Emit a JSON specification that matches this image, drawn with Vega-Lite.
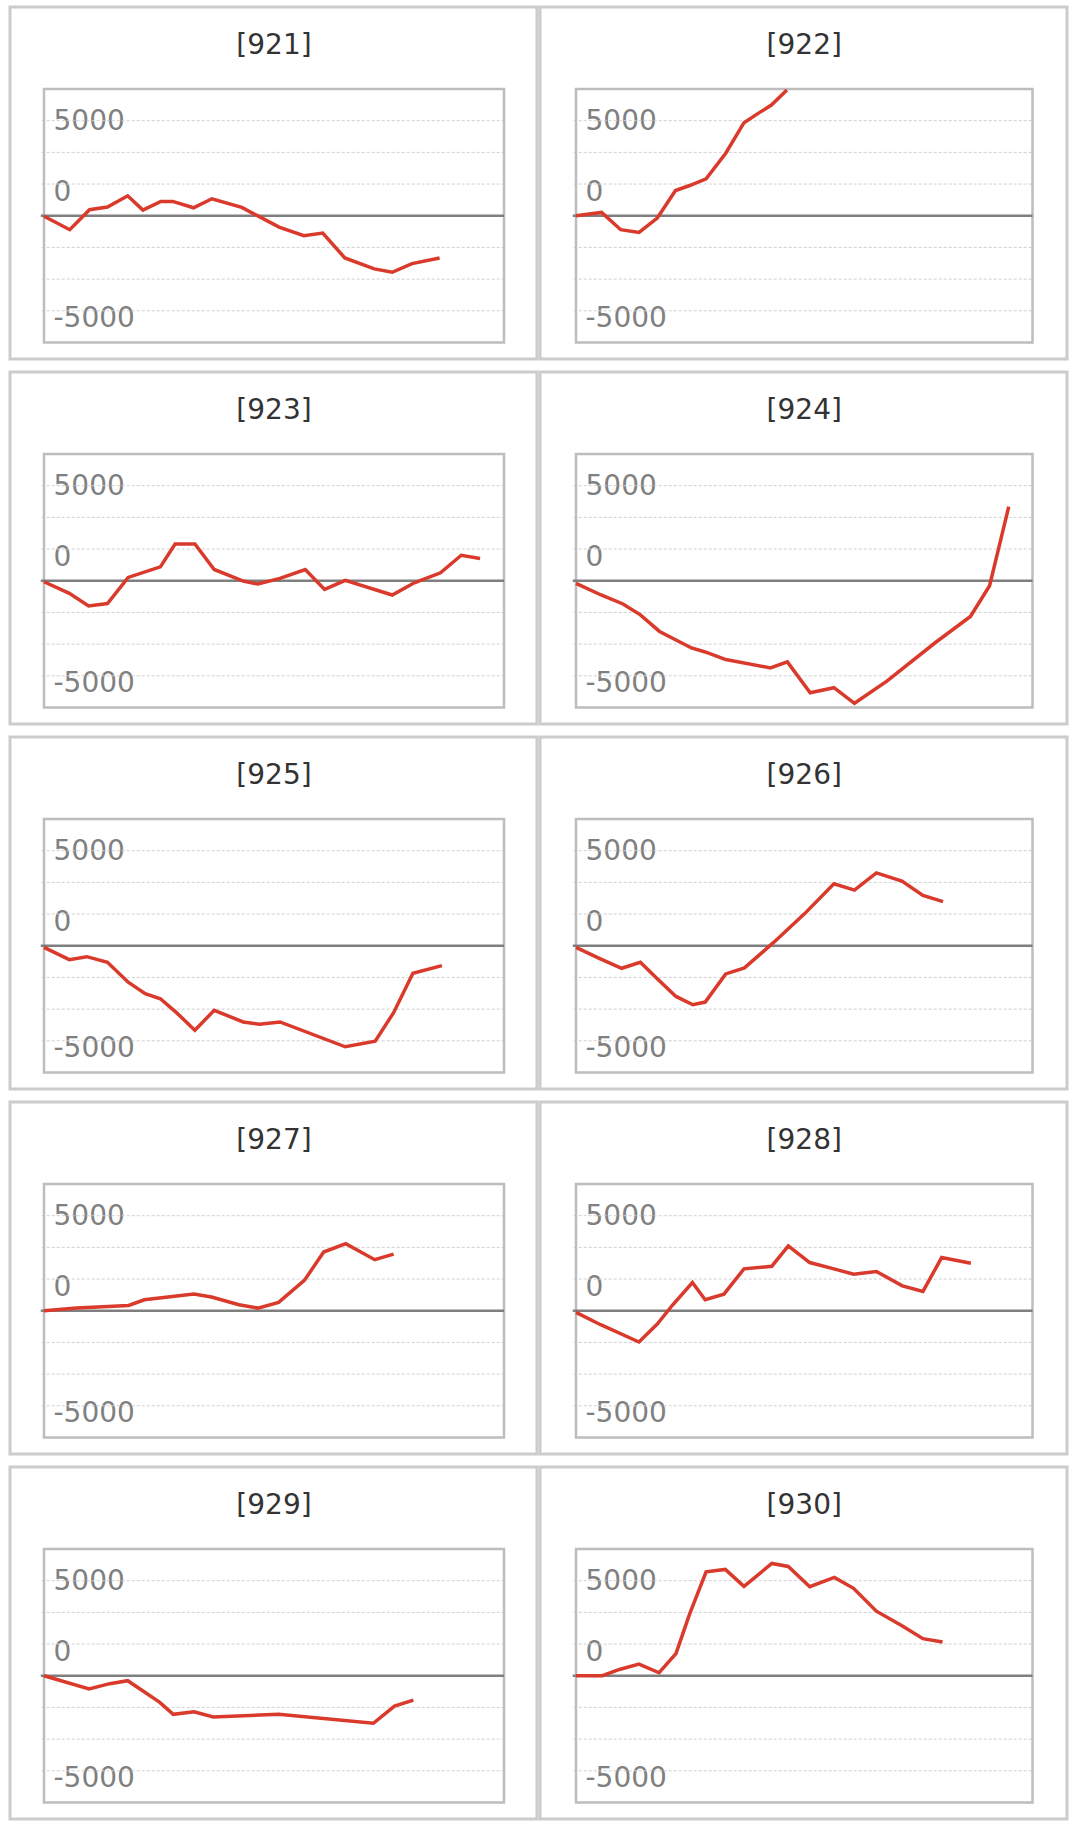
{
"$schema":"https://vega.github.io/schema/vega-lite/v6.json",
"padding":{"left":8,"top":5,"right":0,"bottom":0},
"background":"white",
"config":{"view":{"stroke":"#cccccc","strokeWidth":3},
"line":{"color":"#d93a2b","strokeWidth":3.5},
"axisY":{"grid":false,"domain":false,"ticks":false,"tickSize":0,"labelFont":"DejaVu Sans","labelFontSize":28,"labelColor":"#808080","labelAlign":"left","labelBaseline":"alphabetic","labelOverlap":false,"labelFlush":false,"labelExpr":"datum.value > 4000 ? '5000' : datum.value < -4000 ? '-5000' : '0'"}},
"datasets":{
"grid":[{"diff":-5000},{"diff":-3333.33},{"diff":-1666.67},{"diff":1666.67},{"diff":3333.33},{"diff":5000}],
"series":[
{"panel":"[921]","t":0,"diff":-30},{"panel":"[921]","t":5.6,"diff":-734},{"panel":"[921]","t":9.9,"diff":315},{"panel":"[921]","t":13.8,"diff":455},{"panel":"[921]","t":18.2,"diff":1049},{"panel":"[921]","t":21.5,"diff":297},{"panel":"[921]","t":25.4,"diff":752},{"panel":"[921]","t":28.0,"diff":752},{"panel":"[921]","t":32.5,"diff":420},{"panel":"[921]","t":36.5,"diff":892},{"panel":"[921]","t":43.0,"diff":437},{"panel":"[921]","t":46.7,"diff":-35},{"panel":"[921]","t":51.1,"diff":-594},{"panel":"[921]","t":56.5,"diff":-1049},{"panel":"[921]","t":60.6,"diff":-909},{"panel":"[921]","t":65.4,"diff":-2220},{"panel":"[921]","t":71.8,"diff":-2797},{"panel":"[921]","t":75.7,"diff":-2972},{"panel":"[921]","t":80.0,"diff":-2517},{"panel":"[921]","t":86.0,"diff":-2220},
{"panel":"[922]","t":0,"diff":0},{"panel":"[922]","t":5.6,"diff":175},{"panel":"[922]","t":9.8,"diff":-734},{"panel":"[922]","t":13.8,"diff":-874},{"panel":"[922]","t":17.8,"diff":-122},{"panel":"[922]","t":21.8,"diff":1329},{"panel":"[922]","t":24.9,"diff":1591},{"panel":"[922]","t":28.5,"diff":1941},{"panel":"[922]","t":32.8,"diff":3287},{"panel":"[922]","t":36.8,"diff":4895},{"panel":"[922]","t":39.9,"diff":5385},{"panel":"[922]","t":42.8,"diff":5822},{"panel":"[922]","t":46.2,"diff":6620},
{"panel":"[923]","t":0,"diff":-52},{"panel":"[923]","t":5.5,"diff":-662},{"panel":"[923]","t":9.7,"diff":-1324},{"panel":"[923]","t":13.8,"diff":-1202},{"panel":"[923]","t":18.3,"diff":174},{"panel":"[923]","t":25.3,"diff":732},{"panel":"[923]","t":28.5,"diff":1934},{"panel":"[923]","t":32.8,"diff":1934},{"panel":"[923]","t":37.0,"diff":592},{"panel":"[923]","t":43.3,"diff":-17},{"panel":"[923]","t":46.5,"diff":-174},{"panel":"[923]","t":51.3,"diff":122},{"panel":"[923]","t":56.8,"diff":592},{"panel":"[923]","t":61.0,"diff":-453},{"panel":"[923]","t":65.5,"diff":17},{"panel":"[923]","t":75.7,"diff":-749},{"panel":"[923]","t":80.5,"diff":-105},{"panel":"[923]","t":86.2,"diff":418},{"panel":"[923]","t":90.7,"diff":1341},{"panel":"[923]","t":94.8,"diff":1167},
{"panel":"[924]","t":0,"diff":-139},{"panel":"[924]","t":5.5,"diff":-749},{"panel":"[924]","t":10.3,"diff":-1220},{"panel":"[924]","t":14.1,"diff":-1794},{"panel":"[924]","t":18.3,"diff":-2666},{"panel":"[924]","t":25.3,"diff":-3537},{"panel":"[924]","t":28.3,"diff":-3746},{"panel":"[924]","t":32.8,"diff":-4146},{"panel":"[924]","t":42.6,"diff":-4582},{"panel":"[924]","t":46.3,"diff":-4268},{"panel":"[924]","t":51.3,"diff":-5889},{"panel":"[924]","t":56.5,"diff":-5627},{"panel":"[924]","t":61.0,"diff":-6446},{"panel":"[924]","t":68.1,"diff":-5279},{"panel":"[924]","t":78.6,"diff":-3275},{"panel":"[924]","t":86.4,"diff":-1882},{"panel":"[924]","t":90.6,"diff":-261},{"panel":"[924]","t":94.8,"diff":3902},
{"panel":"[925]","t":0,"diff":-87},{"panel":"[925]","t":5.5,"diff":-732},{"panel":"[925]","t":9.3,"diff":-575},{"panel":"[925]","t":13.8,"diff":-871},{"panel":"[925]","t":18.3,"diff":-1916},{"panel":"[925]","t":22.0,"diff":-2526},{"panel":"[925]","t":25.3,"diff":-2787},{"panel":"[925]","t":28.8,"diff":-3519},{"panel":"[925]","t":32.8,"diff":-4443},{"panel":"[925]","t":37.0,"diff":-3397},{"panel":"[925]","t":43.3,"diff":-4007},{"panel":"[925]","t":46.8,"diff":-4129},{"panel":"[925]","t":51.3,"diff":-4007},{"panel":"[925]","t":65.5,"diff":-5314},{"panel":"[925]","t":72.0,"diff":-5017},{"panel":"[925]","t":76.0,"diff":-3519},{"panel":"[925]","t":80.2,"diff":-1446},{"panel":"[925]","t":86.5,"diff":-1045},
{"panel":"[926]","t":0,"diff":-87},{"panel":"[926]","t":5.1,"diff":-662},{"panel":"[926]","t":10.0,"diff":-1185},{"panel":"[926]","t":14.1,"diff":-871},{"panel":"[926]","t":17.8,"diff":-1742},{"panel":"[926]","t":21.9,"diff":-2666},{"panel":"[926]","t":25.6,"diff":-3101},{"panel":"[926]","t":28.3,"diff":-2962},{"panel":"[926]","t":32.8,"diff":-1481},{"panel":"[926]","t":36.9,"diff":-1167},{"panel":"[926]","t":43.3,"diff":174},{"panel":"[926]","t":50.1,"diff":1690},{"panel":"[926]","t":56.5,"diff":3258},{"panel":"[926]","t":61.0,"diff":2927},{"panel":"[926]","t":65.8,"diff":3833},{"panel":"[926]","t":71.4,"diff":3397},{"panel":"[926]","t":76.0,"diff":2648},{"panel":"[926]","t":80.4,"diff":2317},
{"panel":"[927]","t":0,"diff":0},{"panel":"[927]","t":7.1,"diff":140},{"panel":"[927]","t":18.4,"diff":281},{"panel":"[927]","t":21.8,"diff":579},{"panel":"[927]","t":32.6,"diff":877},{"panel":"[927]","t":36.4,"diff":719},{"panel":"[927]","t":42.4,"diff":316},{"panel":"[927]","t":46.5,"diff":140},{"panel":"[927]","t":51.0,"diff":439},{"panel":"[927]","t":56.6,"diff":1596},{"panel":"[927]","t":60.8,"diff":3088},{"panel":"[927]","t":65.6,"diff":3526},{"panel":"[927]","t":71.9,"diff":2684},{"panel":"[927]","t":76.0,"diff":2982},
{"panel":"[928]","t":0,"diff":-87},{"panel":"[928]","t":5.4,"diff":-734},{"panel":"[928]","t":13.8,"diff":-1643},{"panel":"[928]","t":17.8,"diff":-699},{"panel":"[928]","t":21.2,"diff":315},{"panel":"[928]","t":25.5,"diff":1486},{"panel":"[928]","t":28.3,"diff":577},{"panel":"[928]","t":32.4,"diff":874},{"panel":"[928]","t":36.8,"diff":2203},{"panel":"[928]","t":42.9,"diff":2343},{"panel":"[928]","t":46.5,"diff":3409},{"panel":"[928]","t":51.2,"diff":2535},{"panel":"[928]","t":56.5,"diff":2203},{"panel":"[928]","t":60.8,"diff":1923},{"panel":"[928]","t":65.8,"diff":2063},{"panel":"[928]","t":71.5,"diff":1311},{"panel":"[928]","t":76.0,"diff":1014},{"panel":"[928]","t":80.1,"diff":2797},{"panel":"[928]","t":86.5,"diff":2500},
{"panel":"[929]","t":0,"diff":0},{"panel":"[929]","t":9.8,"diff":-694},{"panel":"[929]","t":14.3,"diff":-417},{"panel":"[929]","t":18.2,"diff":-260},{"panel":"[929]","t":25.1,"diff":-1389},{"panel":"[929]","t":28.1,"diff":-2031},{"panel":"[929]","t":32.6,"diff":-1892},{"panel":"[929]","t":36.8,"diff":-2170},{"panel":"[929]","t":51.0,"diff":-2031},{"panel":"[929]","t":71.6,"diff":-2500},{"panel":"[929]","t":76.2,"diff":-1597},{"panel":"[929]","t":80.3,"diff":-1285},
{"panel":"[930]","t":0,"diff":0},{"panel":"[930]","t":5.8,"diff":0},{"panel":"[930]","t":9.5,"diff":331},{"panel":"[930]","t":13.8,"diff":610},{"panel":"[930]","t":18.2,"diff":157},{"panel":"[930]","t":21.9,"diff":1167},{"panel":"[930]","t":24.9,"diff":3258},{"panel":"[930]","t":28.5,"diff":5470},{"panel":"[930]","t":32.7,"diff":5592},{"panel":"[930]","t":36.8,"diff":4704},{"panel":"[930]","t":42.9,"diff":5906},{"panel":"[930]","t":46.5,"diff":5749},{"panel":"[930]","t":51.2,"diff":4686},{"panel":"[930]","t":56.6,"diff":5174},{"panel":"[930]","t":60.8,"diff":4599},{"panel":"[930]","t":65.8,"diff":3397},{"panel":"[930]","t":71.5,"diff":2613},{"panel":"[930]","t":76.0,"diff":1951},{"panel":"[930]","t":80.3,"diff":1777}
]},
"columns":2,
"spacing":{"row":13,"column":3},
"bounds":"flush",
"concat":[
{"width":527,"height":352,"layer":[
{"data":{"name":"grid"},"mark":{"type":"rule","color":"#d0d0d0","strokeWidth":1,"strokeDash":[3,2]},"encoding":{"x":{"datum":-0.5,"type":"quantitative","axis":null},"x2":{"datum":100},"y":{"field":"diff","type":"quantitative"}}},
{"data":{"name":"series"},"transform":[{"filter":"datum.panel === '[921]'"},{"aggregate":[{"op":"count","as":"n"}],"groupby":["panel"]}],"layer":[
{"mark":{"type":"rect","filled":false,"stroke":"#bdbdbd","strokeWidth":2.5},"encoding":{"x":{"datum":0,"type":"quantitative","axis":null},"x2":{"datum":100},"y":{"datum":-6666.67,"type":"quantitative"},"y2":{"datum":6666.67}}},
{"mark":{"type":"rule","color":"#7f7f7f","strokeWidth":2.5},"encoding":{"x":{"datum":-0.7,"type":"quantitative","axis":null},"x2":{"datum":100},"y":{"datum":0,"type":"quantitative"}}},
{"mark":{"type":"text","font":"DejaVu Sans","fontSize":28,"color":"#333333","align":"center","baseline":"alphabetic"},"encoding":{"x":{"datum":50,"type":"quantitative","axis":null},"y":{"datum":8508,"type":"quantitative"},"text":{"field":"panel"}}}]},
{"data":{"name":"series"},"transform":[{"filter":"datum.panel === '[921]'"}],"mark":{"type":"line"},"encoding":{"x":{"field":"t","type":"quantitative","scale":{"domain":[-7.391,107.174],"nice":false,"zero":false},"axis":null},"y":{"field":"diff","type":"quantitative","scale":{"domain":[-7535,10980],"nice":false,"zero":false},"axis":{"title":null,"values":[5000,1666.67,-5000],"labelPadding":-43,"labelOffset":{"condition":{"test":"datum.value > 4000","value":8.5},"value":16}}}}}]},
{"width":527,"height":352,"layer":[
{"data":{"name":"grid"},"mark":{"type":"rule","color":"#d0d0d0","strokeWidth":1,"strokeDash":[3,2]},"encoding":{"x":{"datum":-0.5,"type":"quantitative","axis":null},"x2":{"datum":100},"y":{"field":"diff","type":"quantitative"}}},
{"data":{"name":"series"},"transform":[{"filter":"datum.panel === '[922]'"},{"aggregate":[{"op":"count","as":"n"}],"groupby":["panel"]}],"layer":[
{"mark":{"type":"rect","filled":false,"stroke":"#bdbdbd","strokeWidth":2.5},"encoding":{"x":{"datum":0,"type":"quantitative","axis":null},"x2":{"datum":100},"y":{"datum":-6666.67,"type":"quantitative"},"y2":{"datum":6666.67}}},
{"mark":{"type":"rule","color":"#7f7f7f","strokeWidth":2.5},"encoding":{"x":{"datum":-0.7,"type":"quantitative","axis":null},"x2":{"datum":100},"y":{"datum":0,"type":"quantitative"}}},
{"mark":{"type":"text","font":"DejaVu Sans","fontSize":28,"color":"#333333","align":"center","baseline":"alphabetic"},"encoding":{"x":{"datum":50,"type":"quantitative","axis":null},"y":{"datum":8508,"type":"quantitative"},"text":{"field":"panel"}}}]},
{"data":{"name":"series"},"transform":[{"filter":"datum.panel === '[922]'"}],"mark":{"type":"line"},"encoding":{"x":{"field":"t","type":"quantitative","scale":{"domain":[-7.886,107.557],"nice":false,"zero":false},"axis":null},"y":{"field":"diff","type":"quantitative","scale":{"domain":[-7535,10980],"nice":false,"zero":false},"axis":{"title":null,"values":[5000,1666.67,-5000],"labelPadding":-45,"labelOffset":{"condition":{"test":"datum.value > 4000","value":8.5},"value":16}}}}}]},
{"width":527,"height":352,"layer":[
{"data":{"name":"grid"},"mark":{"type":"rule","color":"#d0d0d0","strokeWidth":1,"strokeDash":[3,2]},"encoding":{"x":{"datum":-0.5,"type":"quantitative","axis":null},"x2":{"datum":100},"y":{"field":"diff","type":"quantitative"}}},
{"data":{"name":"series"},"transform":[{"filter":"datum.panel === '[923]'"},{"aggregate":[{"op":"count","as":"n"}],"groupby":["panel"]}],"layer":[
{"mark":{"type":"rect","filled":false,"stroke":"#bdbdbd","strokeWidth":2.5},"encoding":{"x":{"datum":0,"type":"quantitative","axis":null},"x2":{"datum":100},"y":{"datum":-6666.67,"type":"quantitative"},"y2":{"datum":6666.67}}},
{"mark":{"type":"rule","color":"#7f7f7f","strokeWidth":2.5},"encoding":{"x":{"datum":-0.7,"type":"quantitative","axis":null},"x2":{"datum":100},"y":{"datum":0,"type":"quantitative"}}},
{"mark":{"type":"text","font":"DejaVu Sans","fontSize":28,"color":"#333333","align":"center","baseline":"alphabetic"},"encoding":{"x":{"datum":50,"type":"quantitative","axis":null},"y":{"datum":8508,"type":"quantitative"},"text":{"field":"panel"}}}]},
{"data":{"name":"series"},"transform":[{"filter":"datum.panel === '[923]'"}],"mark":{"type":"line"},"encoding":{"x":{"field":"t","type":"quantitative","scale":{"domain":[-7.391,107.174],"nice":false,"zero":false},"axis":null},"y":{"field":"diff","type":"quantitative","scale":{"domain":[-7535,10980],"nice":false,"zero":false},"axis":{"title":null,"values":[5000,1666.67,-5000],"labelPadding":-43,"labelOffset":{"condition":{"test":"datum.value > 4000","value":8.5},"value":16}}}}}]},
{"width":527,"height":352,"layer":[
{"data":{"name":"grid"},"mark":{"type":"rule","color":"#d0d0d0","strokeWidth":1,"strokeDash":[3,2]},"encoding":{"x":{"datum":-0.5,"type":"quantitative","axis":null},"x2":{"datum":100},"y":{"field":"diff","type":"quantitative"}}},
{"data":{"name":"series"},"transform":[{"filter":"datum.panel === '[924]'"},{"aggregate":[{"op":"count","as":"n"}],"groupby":["panel"]}],"layer":[
{"mark":{"type":"rect","filled":false,"stroke":"#bdbdbd","strokeWidth":2.5},"encoding":{"x":{"datum":0,"type":"quantitative","axis":null},"x2":{"datum":100},"y":{"datum":-6666.67,"type":"quantitative"},"y2":{"datum":6666.67}}},
{"mark":{"type":"rule","color":"#7f7f7f","strokeWidth":2.5},"encoding":{"x":{"datum":-0.7,"type":"quantitative","axis":null},"x2":{"datum":100},"y":{"datum":0,"type":"quantitative"}}},
{"mark":{"type":"text","font":"DejaVu Sans","fontSize":28,"color":"#333333","align":"center","baseline":"alphabetic"},"encoding":{"x":{"datum":50,"type":"quantitative","axis":null},"y":{"datum":8508,"type":"quantitative"},"text":{"field":"panel"}}}]},
{"data":{"name":"series"},"transform":[{"filter":"datum.panel === '[924]'"}],"mark":{"type":"line"},"encoding":{"x":{"field":"t","type":"quantitative","scale":{"domain":[-7.886,107.557],"nice":false,"zero":false},"axis":null},"y":{"field":"diff","type":"quantitative","scale":{"domain":[-7535,10980],"nice":false,"zero":false},"axis":{"title":null,"values":[5000,1666.67,-5000],"labelPadding":-45,"labelOffset":{"condition":{"test":"datum.value > 4000","value":8.5},"value":16}}}}}]},
{"width":527,"height":352,"layer":[
{"data":{"name":"grid"},"mark":{"type":"rule","color":"#d0d0d0","strokeWidth":1,"strokeDash":[3,2]},"encoding":{"x":{"datum":-0.5,"type":"quantitative","axis":null},"x2":{"datum":100},"y":{"field":"diff","type":"quantitative"}}},
{"data":{"name":"series"},"transform":[{"filter":"datum.panel === '[925]'"},{"aggregate":[{"op":"count","as":"n"}],"groupby":["panel"]}],"layer":[
{"mark":{"type":"rect","filled":false,"stroke":"#bdbdbd","strokeWidth":2.5},"encoding":{"x":{"datum":0,"type":"quantitative","axis":null},"x2":{"datum":100},"y":{"datum":-6666.67,"type":"quantitative"},"y2":{"datum":6666.67}}},
{"mark":{"type":"rule","color":"#7f7f7f","strokeWidth":2.5},"encoding":{"x":{"datum":-0.7,"type":"quantitative","axis":null},"x2":{"datum":100},"y":{"datum":0,"type":"quantitative"}}},
{"mark":{"type":"text","font":"DejaVu Sans","fontSize":28,"color":"#333333","align":"center","baseline":"alphabetic"},"encoding":{"x":{"datum":50,"type":"quantitative","axis":null},"y":{"datum":8508,"type":"quantitative"},"text":{"field":"panel"}}}]},
{"data":{"name":"series"},"transform":[{"filter":"datum.panel === '[925]'"}],"mark":{"type":"line"},"encoding":{"x":{"field":"t","type":"quantitative","scale":{"domain":[-7.391,107.174],"nice":false,"zero":false},"axis":null},"y":{"field":"diff","type":"quantitative","scale":{"domain":[-7535,10980],"nice":false,"zero":false},"axis":{"title":null,"values":[5000,1666.67,-5000],"labelPadding":-43,"labelOffset":{"condition":{"test":"datum.value > 4000","value":8.5},"value":16}}}}}]},
{"width":527,"height":352,"layer":[
{"data":{"name":"grid"},"mark":{"type":"rule","color":"#d0d0d0","strokeWidth":1,"strokeDash":[3,2]},"encoding":{"x":{"datum":-0.5,"type":"quantitative","axis":null},"x2":{"datum":100},"y":{"field":"diff","type":"quantitative"}}},
{"data":{"name":"series"},"transform":[{"filter":"datum.panel === '[926]'"},{"aggregate":[{"op":"count","as":"n"}],"groupby":["panel"]}],"layer":[
{"mark":{"type":"rect","filled":false,"stroke":"#bdbdbd","strokeWidth":2.5},"encoding":{"x":{"datum":0,"type":"quantitative","axis":null},"x2":{"datum":100},"y":{"datum":-6666.67,"type":"quantitative"},"y2":{"datum":6666.67}}},
{"mark":{"type":"rule","color":"#7f7f7f","strokeWidth":2.5},"encoding":{"x":{"datum":-0.7,"type":"quantitative","axis":null},"x2":{"datum":100},"y":{"datum":0,"type":"quantitative"}}},
{"mark":{"type":"text","font":"DejaVu Sans","fontSize":28,"color":"#333333","align":"center","baseline":"alphabetic"},"encoding":{"x":{"datum":50,"type":"quantitative","axis":null},"y":{"datum":8508,"type":"quantitative"},"text":{"field":"panel"}}}]},
{"data":{"name":"series"},"transform":[{"filter":"datum.panel === '[926]'"}],"mark":{"type":"line"},"encoding":{"x":{"field":"t","type":"quantitative","scale":{"domain":[-7.886,107.557],"nice":false,"zero":false},"axis":null},"y":{"field":"diff","type":"quantitative","scale":{"domain":[-7535,10980],"nice":false,"zero":false},"axis":{"title":null,"values":[5000,1666.67,-5000],"labelPadding":-45,"labelOffset":{"condition":{"test":"datum.value > 4000","value":8.5},"value":16}}}}}]},
{"width":527,"height":352,"layer":[
{"data":{"name":"grid"},"mark":{"type":"rule","color":"#d0d0d0","strokeWidth":1,"strokeDash":[3,2]},"encoding":{"x":{"datum":-0.5,"type":"quantitative","axis":null},"x2":{"datum":100},"y":{"field":"diff","type":"quantitative"}}},
{"data":{"name":"series"},"transform":[{"filter":"datum.panel === '[927]'"},{"aggregate":[{"op":"count","as":"n"}],"groupby":["panel"]}],"layer":[
{"mark":{"type":"rect","filled":false,"stroke":"#bdbdbd","strokeWidth":2.5},"encoding":{"x":{"datum":0,"type":"quantitative","axis":null},"x2":{"datum":100},"y":{"datum":-6666.67,"type":"quantitative"},"y2":{"datum":6666.67}}},
{"mark":{"type":"rule","color":"#7f7f7f","strokeWidth":2.5},"encoding":{"x":{"datum":-0.7,"type":"quantitative","axis":null},"x2":{"datum":100},"y":{"datum":0,"type":"quantitative"}}},
{"mark":{"type":"text","font":"DejaVu Sans","fontSize":28,"color":"#333333","align":"center","baseline":"alphabetic"},"encoding":{"x":{"datum":50,"type":"quantitative","axis":null},"y":{"datum":8508,"type":"quantitative"},"text":{"field":"panel"}}}]},
{"data":{"name":"series"},"transform":[{"filter":"datum.panel === '[927]'"}],"mark":{"type":"line"},"encoding":{"x":{"field":"t","type":"quantitative","scale":{"domain":[-7.391,107.174],"nice":false,"zero":false},"axis":null},"y":{"field":"diff","type":"quantitative","scale":{"domain":[-7535,10980],"nice":false,"zero":false},"axis":{"title":null,"values":[5000,1666.67,-5000],"labelPadding":-43,"labelOffset":{"condition":{"test":"datum.value > 4000","value":8.5},"value":16}}}}}]},
{"width":527,"height":352,"layer":[
{"data":{"name":"grid"},"mark":{"type":"rule","color":"#d0d0d0","strokeWidth":1,"strokeDash":[3,2]},"encoding":{"x":{"datum":-0.5,"type":"quantitative","axis":null},"x2":{"datum":100},"y":{"field":"diff","type":"quantitative"}}},
{"data":{"name":"series"},"transform":[{"filter":"datum.panel === '[928]'"},{"aggregate":[{"op":"count","as":"n"}],"groupby":["panel"]}],"layer":[
{"mark":{"type":"rect","filled":false,"stroke":"#bdbdbd","strokeWidth":2.5},"encoding":{"x":{"datum":0,"type":"quantitative","axis":null},"x2":{"datum":100},"y":{"datum":-6666.67,"type":"quantitative"},"y2":{"datum":6666.67}}},
{"mark":{"type":"rule","color":"#7f7f7f","strokeWidth":2.5},"encoding":{"x":{"datum":-0.7,"type":"quantitative","axis":null},"x2":{"datum":100},"y":{"datum":0,"type":"quantitative"}}},
{"mark":{"type":"text","font":"DejaVu Sans","fontSize":28,"color":"#333333","align":"center","baseline":"alphabetic"},"encoding":{"x":{"datum":50,"type":"quantitative","axis":null},"y":{"datum":8508,"type":"quantitative"},"text":{"field":"panel"}}}]},
{"data":{"name":"series"},"transform":[{"filter":"datum.panel === '[928]'"}],"mark":{"type":"line"},"encoding":{"x":{"field":"t","type":"quantitative","scale":{"domain":[-7.886,107.557],"nice":false,"zero":false},"axis":null},"y":{"field":"diff","type":"quantitative","scale":{"domain":[-7535,10980],"nice":false,"zero":false},"axis":{"title":null,"values":[5000,1666.67,-5000],"labelPadding":-45,"labelOffset":{"condition":{"test":"datum.value > 4000","value":8.5},"value":16}}}}}]},
{"width":527,"height":352,"layer":[
{"data":{"name":"grid"},"mark":{"type":"rule","color":"#d0d0d0","strokeWidth":1,"strokeDash":[3,2]},"encoding":{"x":{"datum":-0.5,"type":"quantitative","axis":null},"x2":{"datum":100},"y":{"field":"diff","type":"quantitative"}}},
{"data":{"name":"series"},"transform":[{"filter":"datum.panel === '[929]'"},{"aggregate":[{"op":"count","as":"n"}],"groupby":["panel"]}],"layer":[
{"mark":{"type":"rect","filled":false,"stroke":"#bdbdbd","strokeWidth":2.5},"encoding":{"x":{"datum":0,"type":"quantitative","axis":null},"x2":{"datum":100},"y":{"datum":-6666.67,"type":"quantitative"},"y2":{"datum":6666.67}}},
{"mark":{"type":"rule","color":"#7f7f7f","strokeWidth":2.5},"encoding":{"x":{"datum":-0.7,"type":"quantitative","axis":null},"x2":{"datum":100},"y":{"datum":0,"type":"quantitative"}}},
{"mark":{"type":"text","font":"DejaVu Sans","fontSize":28,"color":"#333333","align":"center","baseline":"alphabetic"},"encoding":{"x":{"datum":50,"type":"quantitative","axis":null},"y":{"datum":8508,"type":"quantitative"},"text":{"field":"panel"}}}]},
{"data":{"name":"series"},"transform":[{"filter":"datum.panel === '[929]'"}],"mark":{"type":"line"},"encoding":{"x":{"field":"t","type":"quantitative","scale":{"domain":[-7.391,107.174],"nice":false,"zero":false},"axis":null},"y":{"field":"diff","type":"quantitative","scale":{"domain":[-7535,10980],"nice":false,"zero":false},"axis":{"title":null,"values":[5000,1666.67,-5000],"labelPadding":-43,"labelOffset":{"condition":{"test":"datum.value > 4000","value":8.5},"value":16}}}}}]},
{"width":527,"height":352,"layer":[
{"data":{"name":"grid"},"mark":{"type":"rule","color":"#d0d0d0","strokeWidth":1,"strokeDash":[3,2]},"encoding":{"x":{"datum":-0.5,"type":"quantitative","axis":null},"x2":{"datum":100},"y":{"field":"diff","type":"quantitative"}}},
{"data":{"name":"series"},"transform":[{"filter":"datum.panel === '[930]'"},{"aggregate":[{"op":"count","as":"n"}],"groupby":["panel"]}],"layer":[
{"mark":{"type":"rect","filled":false,"stroke":"#bdbdbd","strokeWidth":2.5},"encoding":{"x":{"datum":0,"type":"quantitative","axis":null},"x2":{"datum":100},"y":{"datum":-6666.67,"type":"quantitative"},"y2":{"datum":6666.67}}},
{"mark":{"type":"rule","color":"#7f7f7f","strokeWidth":2.5},"encoding":{"x":{"datum":-0.7,"type":"quantitative","axis":null},"x2":{"datum":100},"y":{"datum":0,"type":"quantitative"}}},
{"mark":{"type":"text","font":"DejaVu Sans","fontSize":28,"color":"#333333","align":"center","baseline":"alphabetic"},"encoding":{"x":{"datum":50,"type":"quantitative","axis":null},"y":{"datum":8508,"type":"quantitative"},"text":{"field":"panel"}}}]},
{"data":{"name":"series"},"transform":[{"filter":"datum.panel === '[930]'"}],"mark":{"type":"line"},"encoding":{"x":{"field":"t","type":"quantitative","scale":{"domain":[-7.886,107.557],"nice":false,"zero":false},"axis":null},"y":{"field":"diff","type":"quantitative","scale":{"domain":[-7535,10980],"nice":false,"zero":false},"axis":{"title":null,"values":[5000,1666.67,-5000],"labelPadding":-45,"labelOffset":{"condition":{"test":"datum.value > 4000","value":8.5},"value":16}}}}}]}
]
}
